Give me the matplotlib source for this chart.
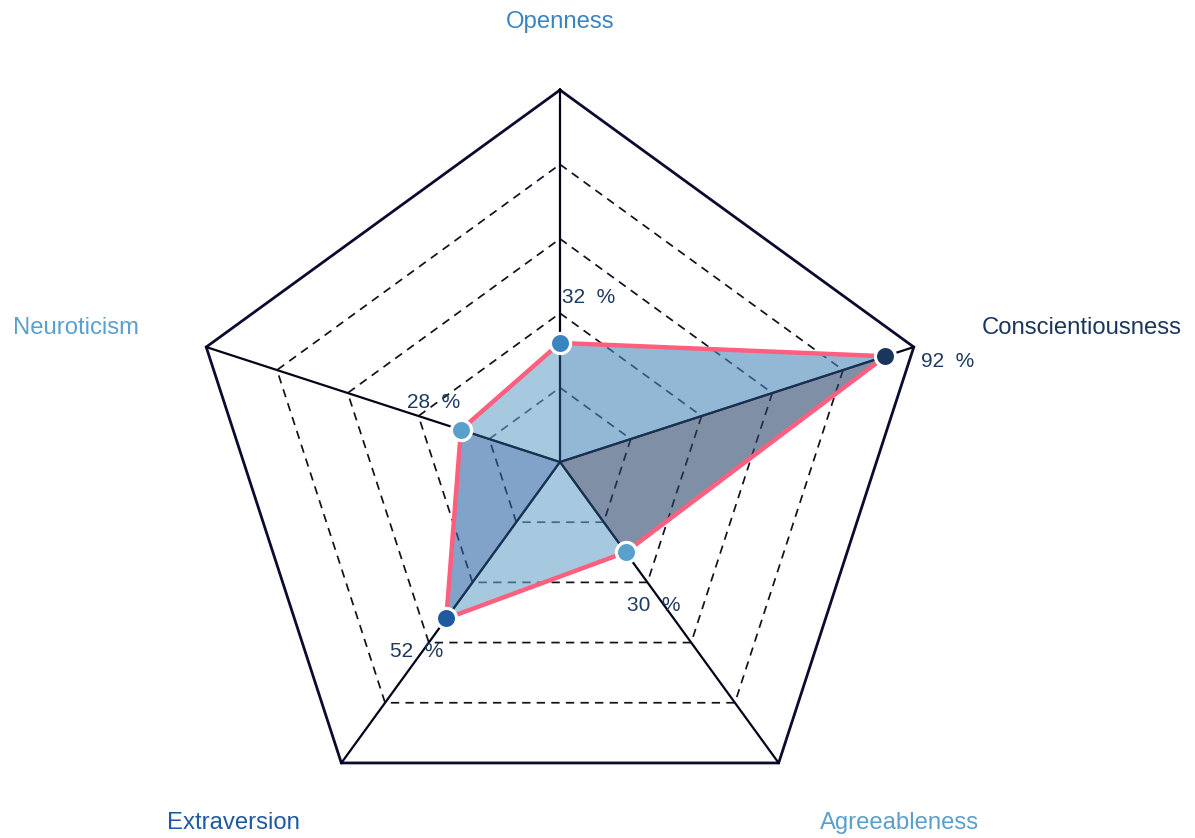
import numpy as np
import matplotlib
matplotlib.use("Agg")
import matplotlib.pyplot as plt
from matplotlib.patches import Polygon

categories = ["Openness", "Conscientiousness", "Agreeableness", "Extraversion", "Neuroticism"]
values = [32, 92, 30, 52, 28]
value_labels = ["32  %", "92  %", "30  %", "52  %", "28  %"]
grid_levels = [20, 40, 60, 80]
max_value = 100

point_colors = ["#3a84bf", "#1b365d", "#5aa0cc", "#1f5aa0", "#5aa0cc"]
fill_colors = ["#4b89bb", "#2a4469", "#6ba5cb", "#2f66a5", "#6ba5cb"]

W, H = 1195, 838
fig = plt.figure(figsize=(W / 100, H / 100), dpi=100)
ax = fig.add_axes([0, 0, 1, 1])
ax.set_xlim(0, W)
ax.set_ylim(0, H)
ax.axis("off")

cx, cy, R = 560, 376, 372
n = len(categories)
angles = np.deg2rad(90 - 360 / n * np.arange(n))

def pos(v, a):
    r = v / max_value * R
    return cx + r * np.cos(a), cy + r * np.sin(a)

# dashed grid
for lv in grid_levels:
    pts = [pos(lv, a) for a in angles]
    pts.append(pts[0])
    xs, ys = zip(*pts)
    ax.plot(xs, ys, color="#111122", lw=1.25, dashes=(4.8, 3.6), zorder=1)

# outer polygon
pts = [pos(max_value, a) for a in angles]
pts.append(pts[0])
xs, ys = zip(*pts)
ax.plot(xs, ys, color="#0b0b30", lw=2.0, zorder=2, solid_joinstyle="miter")

# spokes
for a in angles:
    x, y = pos(max_value, a)
    ax.plot([cx, x], [cy, y], color="#05051a", lw=1.6, zorder=2)

# data points
P = [pos(v, a) for v, a in zip(values, angles)]

# sector triangles
for i in range(n):
    j = (i + 1) % n
    tri = Polygon([(cx, cy), P[i], P[j]], closed=True, facecolor=fill_colors[i],
                  alpha=0.6, edgecolor="none", zorder=3)
    ax.add_patch(tri)
for i in range(n):
    ax.plot([cx, P[i][0]], [cy, P[i][1]], color="#1a3050", lw=1.5, zorder=4)

# outline
xs, ys = zip(*(P + [P[0]]))
ax.plot(xs, ys, color="#ff5f7e", lw=3.2, zorder=5, solid_joinstyle="round")

# markers
for (x, y), c in zip(P, point_colors):
    ax.plot(x, y, "o", ms=14.5, mfc=c, mec="white", mew=2.3, zorder=6)

# value labels
label_offsets = [(2, 45), (36, -5), (1, -53), (-56, -33), (-54, 27)]
for (x, y), (dx, dy), t in zip(P, label_offsets, value_labels):
    ax.text(x + dx, y + dy, t, ha="left", va="center", fontsize=15,
            color="#1f3a5f", family="Liberation Sans", zorder=7)

# category labels
for a, name, c in zip(angles, categories, point_colors):
    x, y = pos(max_value * 443 / R, a)
    cosv = np.cos(a)
    ha = "center" if abs(cosv) < 0.1 else ("left" if cosv > 0 else "right")
    ax.text(x, y - 3, name, ha=ha, va="center", fontsize=17.2, color=c,
            family="Liberation Sans", zorder=7)

fig.savefig("out.png", dpi=100, facecolor="white")
